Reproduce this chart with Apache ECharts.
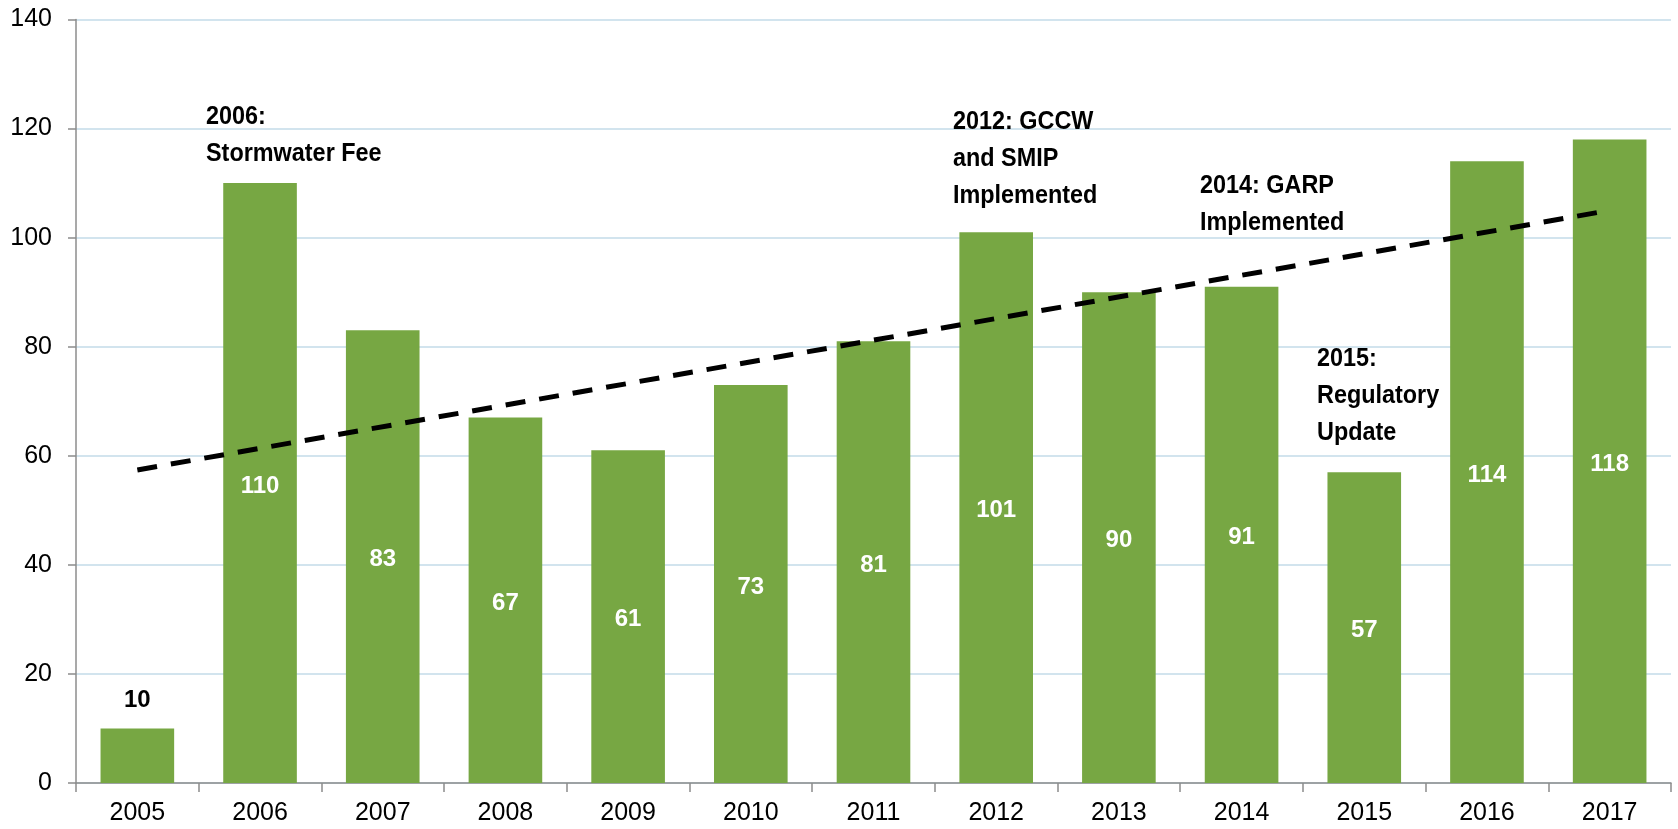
<!DOCTYPE html>
<html><head><meta charset="utf-8">
<script src="https://cdn.jsdelivr.net/npm/echarts@6/dist/echarts.min.js"></script>
<style>html,body{margin:0;padding:0;background:#fff}#c{width:1678px;height:829px}</style>
</head><body><div id="c"></div>
<script>
const years = ['2005','2006','2007','2008','2009','2010','2011','2012','2013','2014','2015','2016','2017'];
const counts = [10,110,83,67,61,73,81,101,90,91,57,114,118];
const trendStart = 57.4;   // trend line value at 2005
const trendEnd = 105.0;    // trend line value at 2017
const yTicks = [0,20,40,60,80,100,120,140];
const notes = [
  {text:'2006:\nStormwater Fee', x:206, y:98},
  {text:'2012: GCCW\nand SMIP\nImplemented', x:953, y:103},
  {text:'2014: GARP\nImplemented', x:1200, y:167},
  {text:'2015:\nRegulatory\nUpdate', x:1317, y:340}
];
const FONT = '"Liberation Sans", Arial, sans-serif';
const trend = years.map((y,i)=> i===0 ? trendStart : (i===years.length-1 ? trendEnd : null));
const chart = echarts.init(document.getElementById('c'), null, {renderer:'canvas'});
chart.setOption({
  animation:false,
  backgroundColor:'#fff',
  grid:{left:76, right:7, top:19.5, bottom:46, containLabel:false},
  xAxis:{type:'category', data:years,
    axisLine:{lineStyle:{color:'#8c8c8c', width:1.5}},
    axisTick:{show:true, length:9, lineStyle:{color:'#8c8c8c', width:1.5}},
    axisLabel:{color:'#000', fontSize:25, fontFamily:FONT, margin:18}
  },
  yAxis:{type:'value', min:yTicks[0], max:yTicks[yTicks.length-1], interval:20,
    axisLine:{show:true, lineStyle:{color:'#8c8c8c', width:1.5}},
    axisTick:{show:true, length:8, lineStyle:{color:'#8c8c8c', width:1.5}},
    splitLine:{lineStyle:{color:'#c3dbe8', width:1.5}},
    axisLabel:{color:'#000', fontSize:25, fontFamily:FONT, margin:24}
  },
  series:[
    {type:'bar', data:counts.map((v,i)=>({value:v,
        label: i===0 ? {position:'top', color:'#000', distance:16} : {position:'inside', color:'#fff', offset:[0,3]}})),
      barCategoryGap:'40%',
      itemStyle:{color:'#77a743'},
      label:{show:true, fontSize:24, fontWeight:'bold', fontFamily:FONT}
    },
    {type:'line', data:trend, connectNulls:true, symbol:'none', z:5,
      lineStyle:{color:'#000', width:5, type:[20,14]}}
  ],
  graphic: notes.map(n=>({type:'text', left:n.x, top:n.y, z:10, scaleX:0.9,
    style:{text:n.text, fill:'#000', font:'bold 26px '+FONT, lineHeight:37}}))
});
</script></body></html>
